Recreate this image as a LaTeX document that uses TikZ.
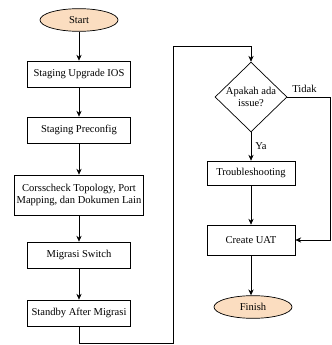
\documentclass[tikz,border=0pt]{standalone}
\usepackage{fontspec}
\setmainfont{Liberation Serif}
\usetikzlibrary{shapes.geometric,arrows.meta}
\definecolor{peach}{RGB}{251,221,192}
\begin{document}
\begin{tikzpicture}[x=0.03cm,y=-0.03cm,
        font=\fontsize{9}{10.5}\selectfont, line width=0.6pt,
        proses/.style={draw, rectangle, minimum width=3.1cm, minimum height=0.78cm, align=center, inner sep=2pt},
        terminal/.style={draw, ellipse, fill=peach, minimum width=2.34cm, minimum height=0.68cm},
        keputusan/.style={draw, diamond, minimum width=2.16cm, minimum height=2cm, inner sep=0pt, align=center},
        panah/.style={-{Stealth[length=5pt,width=4.5pt]}}]
        \useasboundingbox (0,0) rectangle (331,345);
        % kolom kiri
        \node[terminal] (start) at (79,20) {Start};
        \node[proses] (upgrade) at (79,74) {Staging Upgrade IOS};
        \node[proses] (preconfig) at (79,130) {Staging Preconfig};
        \node[proses, minimum width=3.75cm, minimum height=1.2cm] (crosscheck) at (79,195) {Corsscheck Topology, Port\\Mapping, dan Dokumen Lain};
        \node[proses] (migrasi) at (79,255) {Migrasi Switch};
        \node[proses] (standby) at (79,313) {Standby After Migrasi};
        % kolom kanan
        \node[keputusan] (issue) at (251,97) {Apakah ada\\issue?};
        \node[proses, minimum width=2.64cm, minimum height=0.72cm] (trouble) at (251,173) {Troubleshooting};
        \node[proses, minimum width=2.64cm, minimum height=0.9cm] (uat) at (251,240) {Create UAT};
        \node[terminal] (finish) at (253,307) {Finish};
        \coordinate (kiribawah) at (79,343);
        \coordinate (tengahbawah) at (173,343);
        \coordinate (tengahatas) at (173,46);
        \coordinate (kananatas) at (251,46);
        \coordinate (tidakkanan) at (330,97);
        \coordinate (tidakbawah) at (330,240);
        \draw[panah] (start) -- (upgrade);
        \draw[panah] (upgrade) -- (preconfig);
        \draw[panah] (preconfig) -- (crosscheck);
        \draw[panah] (crosscheck) -- (migrasi);
        \draw[panah] (migrasi) -- (standby);
        \draw[panah] (standby) -- (kiribawah) -- (tengahbawah) -- (tengahatas) -- (kananatas) -- (issue);
        \draw[panah] (issue) -- node[right]{Ya} (trouble);
        \draw[panah] (trouble) -- (uat);
        \draw[panah] (uat) -- (finish.north -| uat);
        \draw[panah] (issue.east) -- node[above, pos=0.4]{Tidak} (tidakkanan) -- (tidakbawah) -- (uat);
    \end{tikzpicture}
\end{document}
